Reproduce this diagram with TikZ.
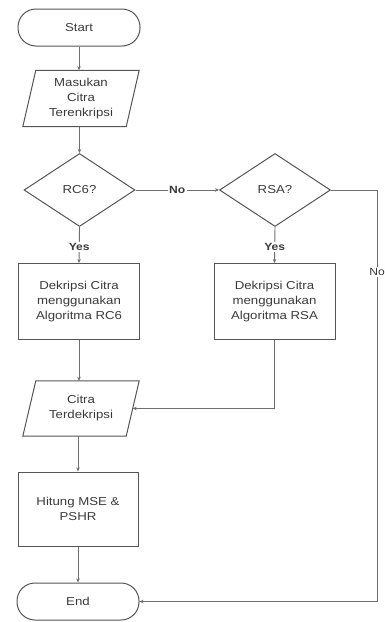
\documentclass[tikz,border=0pt]{standalone}
\usepackage{fontspec}
\setmainfont{Liberation Sans}[FakeStretch=1.15]
\usetikzlibrary{shapes.geometric,arrows.meta}
\newcommand\txtfont{\fontsize{11.5}{15}\selectfont}
\newcommand\lblfont{\fontsize{10.5}{12}\selectfont\bfseries}
\definecolor{shapecol}{HTML}{555555}
\definecolor{linecol}{HTML}{6E6E6E}
\definecolor{txtcol}{HTML}{3A3A3A}
\begin{document}
\begin{tikzpicture}[x=1pt,y=-1pt,
  every node/.style={font=\txtfont, text=txtcol},
  term/.style={draw=shapecol, line width=1pt, rounded corners=18pt, minimum width=122pt, minimum height=37pt, inner sep=0pt},
  procbox/.style={draw=shapecol, line width=1pt, minimum width=121pt, minimum height=76pt, align=center, inner sep=0pt},
  iobox/.style={minimum width=103pt, minimum height=56pt, align=center, inner sep=0pt},
  decis/.style={draw=shapecol, line width=1pt, diamond, minimum width=111pt, minimum height=73pt, inner sep=0pt},
  conn/.style={draw=linecol, line width=0.9pt, -{Stealth[length=4pt,width=3.5pt]}},
  lbl/.style={fill=white, inner sep=1.5pt, font=\lblfont},
  lblr/.style={fill=white, inner sep=1.5pt, font=\fontsize{10.5}{12}\selectfont}
]
\useasboundingbox (0,0) rectangle (385,622);

\node[term] (start) at (79,27.5) {Start};
\node[iobox] (in1) at (81,98.5) {Masukan\\Citra\\Terenkripsi};
\draw[draw=shapecol, line width=1pt] ([xshift=6.5pt]in1.north west) -- ([xshift=6.5pt]in1.north east) -- ([xshift=-6.5pt]in1.south east) -- ([xshift=-6.5pt]in1.south west) -- cycle;
\node[decis] (rc6) at (79.5,190) {RC6?};
\node[decis] (rsa) at (275,190) {RSA?};
\node[procbox] (rc6b) at (79,301.5) {Dekripsi Citra\\menggunakan\\Algoritma RC6};
\node[procbox] (rsab) at (274.5,301.5) {Dekripsi Citra\\menggunakan\\Algoritma RSA};
\node[iobox, minimum height=55pt] (in2) at (81,408.5) {Citra\\Terdekripsi};
\draw[draw=shapecol, line width=1pt] ([xshift=6.5pt]in2.north west) -- ([xshift=6.5pt]in2.north east) -- ([xshift=-6.5pt]in2.south east) -- ([xshift=-6.5pt]in2.south west) -- cycle;
\node[procbox, minimum width=120pt, minimum height=74pt] (hit) at (78,509) {Hitung MSE \&\\PSHR};
\node[term] (end) at (78,601.5) {End};
\coordinate (rt) at (377,190);

\draw[conn] (start.south) -- (start.south |- in1.north);
\draw[conn] (rc6.north |- in1.south) -- (rc6.north);
\draw[conn] (rc6.south) -- node[lbl, pos=0.55] {Yes} (rc6b.north);
\draw[conn] (rc6.east) -- node[lbl] {No} (rsa.west);
\draw[conn] (rsa.south) -- node[lbl, pos=0.55] {Yes} (rsab.north);
\draw[conn] (rsa.east) -- (rt) -- node[lblr, pos=0.2] {No} (rt |- end.east) -- (end.east);
\draw[conn] (rc6b.south) -- (rc6b.south |- in2.north);
\draw[conn] (rsab.south) |- (in2.east);
\draw[conn] (hit.north |- in2.south) -- (hit.north);
\draw[conn] (hit.south) -- (end.north);
\end{tikzpicture}
\end{document}
